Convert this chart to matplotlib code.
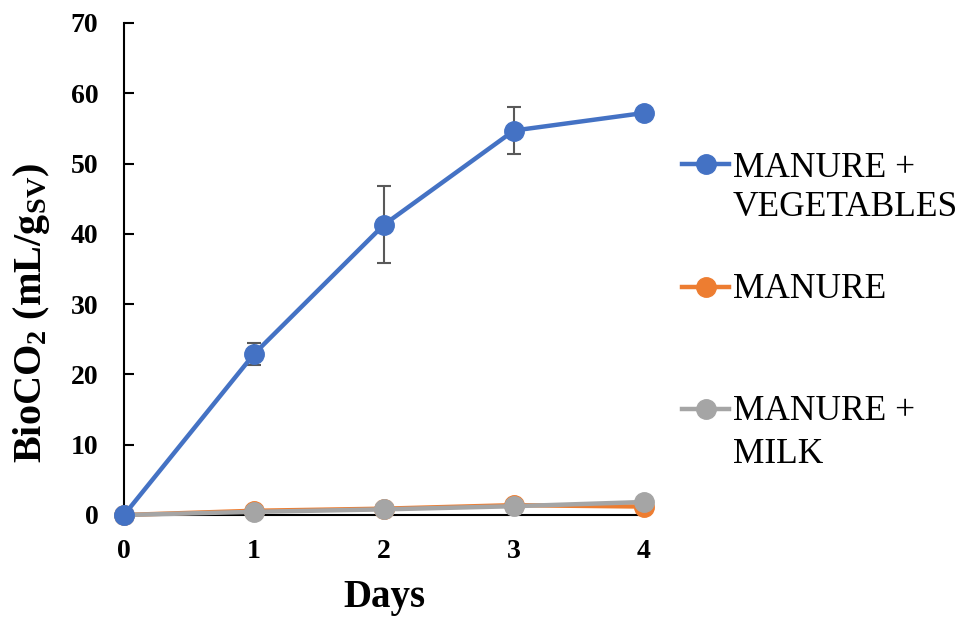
import matplotlib.pyplot as plt
from matplotlib.lines import Line2D

plt.rcParams['font.family'] = ['Liberation Serif', 'DejaVu Serif']
plt.rcParams['mathtext.fontset'] = 'custom'
plt.rcParams['mathtext.rm'] = 'Liberation Serif:bold'
plt.rcParams['mathtext.bf'] = 'Liberation Serif:bold'
plt.rcParams['mathtext.it'] = 'Liberation Serif:bold'

days = [0, 1, 2, 3, 4]
veg = [0, 22.9, 41.3, 54.7, 57.2]
veg_err = [0, 1.6, 5.5, 3.3, 0]
manure = [0, 0.6, 0.9, 1.4, 1.2]
milk = [0, 0.45, 0.8, 1.25, 1.85]
labels = [['MANURE +', 'VEGETABLES'], ['MANURE'], ['MANURE +', 'MILK']]

W, H = 966, 626
fig = plt.figure(figsize=(W / 100, H / 100), dpi=100)
ax = fig.add_axes([124 / W, (H - 515) / H, 520 / W, 492 / H])

ax.errorbar(days, veg, yerr=veg_err, fmt='none', ecolor='#595959',
            elinewidth=1.5, capsize=5, capthick=1.5, zorder=2)
l1, = ax.plot(days, veg, color='#4472C4', lw=3.2, marker='o', ms=14, zorder=5, clip_on=False)
l2, = ax.plot(days, manure, color='#ED7D31', lw=3.2, marker='o', ms=14, zorder=3, clip_on=False)
l3, = ax.plot(days, milk, color='#A5A5A5', lw=3.2, marker='o', ms=14, zorder=4, clip_on=False)

ax.set_xlim(0, 4)
ax.set_ylim(0, 70)
ax.set_xticks(days)
ax.set_yticks(range(0, 71, 10))
for s in ['top', 'right']:
    ax.spines[s].set_visible(False)
for s in ['left', 'bottom']:
    ax.spines[s].set_linewidth(1.5)
ax.tick_params(direction='in', length=7, width=1.5, labelsize=20)
ax.tick_params(axis='x', pad=17)
ax.tick_params(axis='y', pad=18.5)
for t in ax.get_xticklabels() + ax.get_yticklabels():
    t.set_fontweight('bold')

ax.set_xlabel('Days', fontsize=28, fontweight='bold')
ax.xaxis.set_label_coords(0.5, -0.13)
ax.set_ylabel(r'BioCO$_{\mathbf{2}}$ (mL/g$_{\mathbf{SV}}$)', fontsize=29, fontweight='bold')
ax.yaxis.set_label_coords(-0.139, 0.41)

# legend drawn by hand: marker sits on the first text line, like Excel
handle_y = [164, 287, 409]
baselines = [[177, 216], [298], [420, 463]]
for line, hy, lab, bl in zip([l1, l2, l3], handle_y, labels, baselines):
    fig.add_artist(Line2D([682 / W, 729 / W], [1 - hy / H, 1 - hy / H],
                          color=line.get_color(), lw=3.2, marker='o', ms=14,
                          markevery=[], transform=fig.transFigure))
    fig.add_artist(Line2D([705.5 / W], [1 - hy / H], color=line.get_color(),
                          marker='o', ms=14, ls='none', transform=fig.transFigure))
    for txt, b in zip(lab, bl):
        fig.text(733 / W, 1 - b / H, txt, fontsize=25.5, va='baseline', ha='left')

fig.savefig('out.png', dpi=100)
